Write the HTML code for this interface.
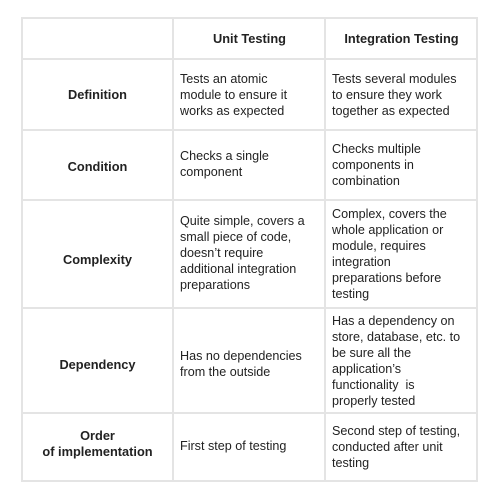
<!DOCTYPE html>
<html><head><style>
body{margin:0;width:501px;height:498px;background:#fff;position:relative;font-family:"Liberation Sans",sans-serif;color:#222;overflow:hidden}
.h{position:absolute;background:#e4e4e4}
.t{position:absolute;font-size:12.6px;line-height:16px;white-space:nowrap}
.b{font-weight:bold;font-size:12.8px;text-align:center;width:151px}
</style></head><body>
<div class="h" style="left:21px;top:17px;width:457px;height:2px"></div>
<div class="h" style="left:21px;top:58px;width:457px;height:2px"></div>
<div class="h" style="left:21px;top:129px;width:457px;height:2px"></div>
<div class="h" style="left:21px;top:199px;width:457px;height:2px"></div>
<div class="h" style="left:21px;top:307px;width:457px;height:2px"></div>
<div class="h" style="left:21px;top:412px;width:457px;height:2px"></div>
<div class="h" style="left:21px;top:480px;width:457px;height:2px"></div>
<div class="h" style="left:21px;top:17px;width:2px;height:465px"></div>
<div class="h" style="left:172px;top:17px;width:2px;height:465px"></div>
<div class="h" style="left:324px;top:17px;width:2px;height:465px"></div>
<div class="h" style="left:476px;top:17px;width:2px;height:465px"></div>

<div class="t b" style="left:174px;top:31px">Unit Testing</div>
<div class="t b" style="left:326px;top:31px">Integration Testing</div>

<div class="t b" style="left:22px;top:87px">Definition</div>
<div class="t b" style="left:22px;top:159px">Condition</div>
<div class="t b" style="left:22px;top:252px">Complexity</div>
<div class="t b" style="left:22px;top:357px">Dependency</div>
<div class="t b" style="left:22px;top:428px">Order<br>of implementation</div>

<div class="t" style="left:180px;top:71px">Tests an atomic<br>module to ensure it<br>works as expected</div>
<div class="t" style="left:332px;top:71px">Tests several modules<br>to ensure they work<br>together as expected</div>
<div class="t" style="left:180px;top:148px">Checks a single<br>component</div>
<div class="t" style="left:332px;top:141px">Checks multiple<br>components in<br>combination</div>
<div class="t" style="left:180px;top:213px">Quite simple, covers a<br>small piece of code,<br>doesn’t require<br>additional integration<br>preparations</div>
<div class="t" style="left:332px;top:206px">Complex, covers the<br>whole application or<br>module, requires<br>integration<br>preparations before<br>testing</div>
<div class="t" style="left:180px;top:348px">Has no dependencies<br>from the outside</div>
<div class="t" style="left:332px;top:313px">Has a dependency on<br>store, database, etc. to<br>be sure all the<br>application’s<br>functionality&nbsp; is<br>properly tested</div>
<div class="t" style="left:180px;top:438px">First step of testing</div>
<div class="t" style="left:332px;top:423px">Second step of testing,<br>conducted after unit<br>testing</div>
</body></html>
